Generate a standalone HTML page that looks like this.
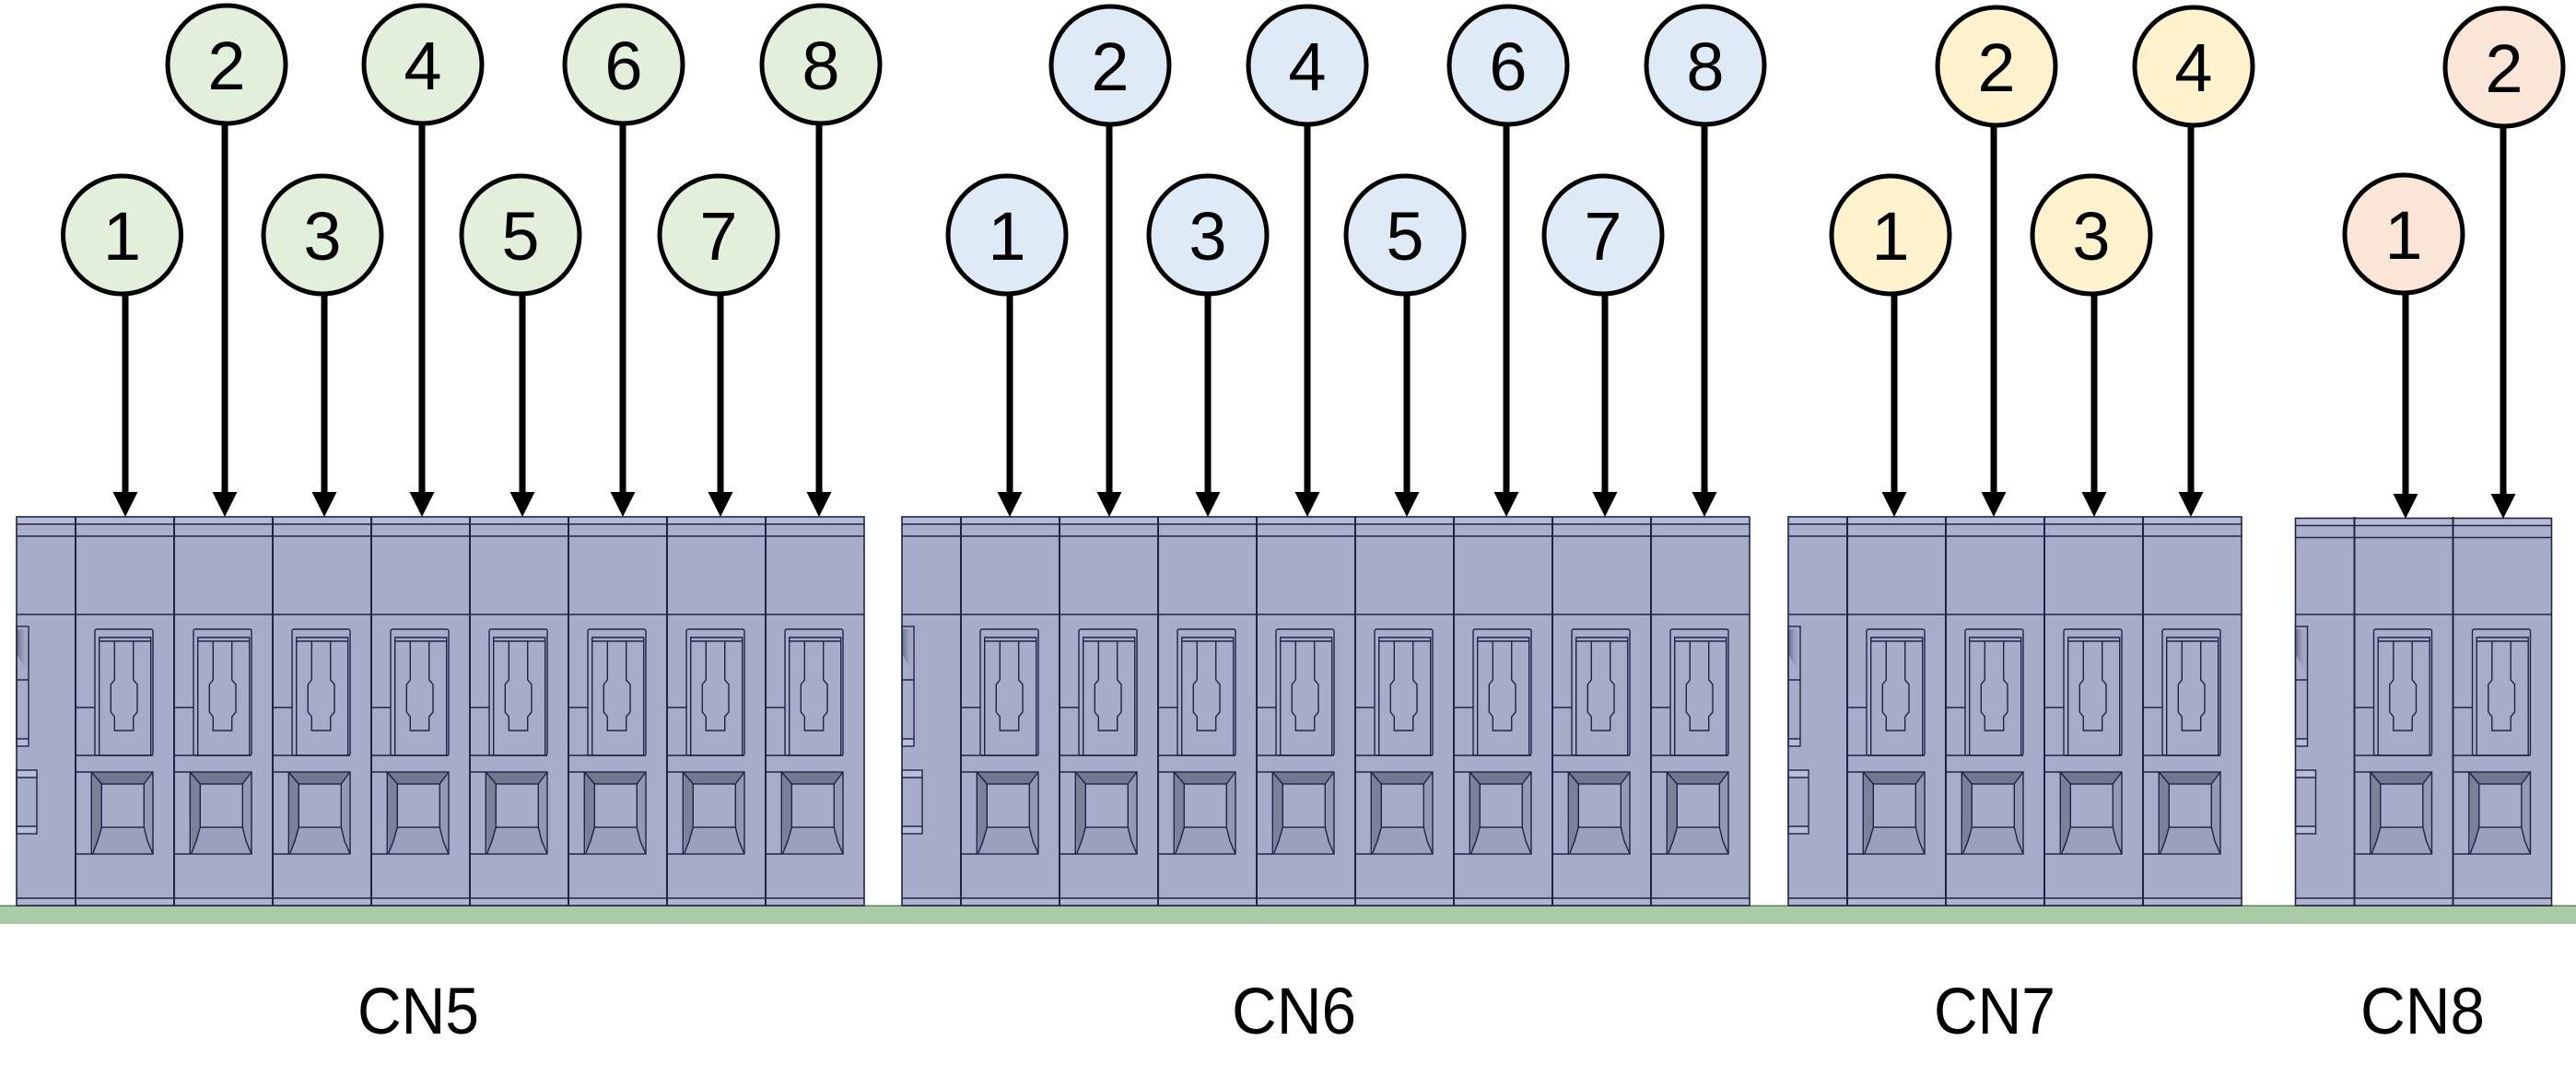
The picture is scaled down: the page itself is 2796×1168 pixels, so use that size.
<!DOCTYPE html>
<html>
<head>
<meta charset="utf-8">
<style>
html,body{margin:0;padding:0;background:#fff;}
svg{display:block;}
.num{font-family:"Liberation Sans",sans-serif;font-size:74px;fill:#000;text-anchor:middle;}
.lbl{font-family:"Liberation Sans",sans-serif;font-size:71px;fill:#000;}
</style>
</head>
<body>
<svg width="2796" height="1168" viewBox="0 0 2796 1168" xmlns="http://www.w3.org/2000/svg">
<defs>
  <linearGradient id="sh" x1="0" y1="0" x2="1" y2="0">
    <stop offset="0" stop-color="#3c4262"/>
    <stop offset="1" stop-color="#a7adc9" stop-opacity="0"/>
  </linearGradient>
  <g id="mod">
    <polygon points="17.3,277 84,277 74.3,290 28.3,290" fill="#737891"/>
    <polygon points="17.3,277 28.3,290 28.3,337 24,352 18.5,366" fill="#7b8198"/>
    <polygon points="84,277 74.3,290 74.3,337 78,352 84,366" fill="#9399b3"/>
    <polygon points="28.3,337 74.3,337 78,352 84,366 18.5,366 24,352" fill="#9ba0bd"/>
    <g fill="none" stroke="#1e2448" stroke-width="1.4">
      <path d="M0,207H21 M0,259H84 M0,277H17.3 M0,366H17.3"/>
      <rect x="21" y="122" width="63" height="137" rx="2"/>
      <path d="M25.7,259V131H81.7V259 M25.7,135H81.7"/>
      <path d="M42.3,135V177L38.3,182V212L42.3,217V232H62.7V217L67,212V182L62.7,177V135"/>
      <rect x="17.3" y="277" width="66.7" height="89"/>
      <rect x="28.3" y="290" width="46" height="47"/>
      <path d="M17.3,277L28.3,290 M84,277L74.3,290 M28.3,337L24,352L18.5,366 M74.3,337L78,352L84,366"/>
    </g>
    <path d="M0,0V422" stroke="#1e2448" stroke-width="2" fill="none"/>
  </g>
  <g id="end">
    <polygon points="1,122 13,122 13,168 6,160 1,150" fill="url(#sh)" opacity="0.55"/>
    <rect x="0" y="275" width="22" height="8" fill="#b8bed7"/>
    <rect x="0" y="336" width="22" height="8" fill="#b8bed7"/>
    <rect x="0" y="241" width="13" height="8" fill="#b8bed7"/>
    <g fill="none" stroke="#1e2448" stroke-width="1.4">
      <rect x="0" y="119" width="13" height="130"/>
      <path d="M0,177H13 M0,241H13"/>
      <rect x="0" y="275" width="22" height="69"/>
      <path d="M0,283H22 M0,336H22"/>
    </g>
  </g>
</defs>

<rect x="0" y="983" width="2796" height="20" fill="#a9cba5"/>
<rect x="0" y="982.5" width="2796" height="1.5" fill="#5c7d5a"/>

<g transform="translate(18,561)">
  <rect x="0" y="0" width="920" height="422" fill="#a7adc9"/>
  <rect x="0" y="0" width="920" height="8" fill="#b4bad4"/>
  <rect x="0" y="8" width="920" height="13" fill="#abb1cc"/>
  <rect x="0" y="414" width="920" height="8" fill="#b0b6d0"/>
  <use href="#end"/>
  <use href="#mod" x="64"/><use href="#mod" x="171"/><use href="#mod" x="278"/><use href="#mod" x="385"/>
  <use href="#mod" x="492"/><use href="#mod" x="599"/><use href="#mod" x="706"/><use href="#mod" x="813"/>
  <path d="M0,8H920 M0,21H920 M0,106H920 M0,414H920" stroke="#1e2448" stroke-width="1.4" fill="none"/>
  <rect x="0" y="0" width="920" height="422" fill="none" stroke="#1e2448" stroke-width="1.6"/>
</g>

<g transform="translate(979,561)">
  <rect x="0" y="0" width="920" height="422" fill="#a7adc9"/>
  <rect x="0" y="0" width="920" height="8" fill="#b4bad4"/>
  <rect x="0" y="8" width="920" height="13" fill="#abb1cc"/>
  <rect x="0" y="414" width="920" height="8" fill="#b0b6d0"/>
  <use href="#end"/>
  <use href="#mod" x="64"/><use href="#mod" x="171"/><use href="#mod" x="278"/><use href="#mod" x="385"/>
  <use href="#mod" x="492"/><use href="#mod" x="599"/><use href="#mod" x="706"/><use href="#mod" x="813"/>
  <path d="M0,8H920 M0,21H920 M0,106H920 M0,414H920" stroke="#1e2448" stroke-width="1.4" fill="none"/>
  <rect x="0" y="0" width="920" height="422" fill="none" stroke="#1e2448" stroke-width="1.6"/>
</g>

<g transform="translate(1941,561)">
  <rect x="0" y="0" width="492" height="422" fill="#a7adc9"/>
  <rect x="0" y="0" width="492" height="8" fill="#b4bad4"/>
  <rect x="0" y="8" width="492" height="13" fill="#abb1cc"/>
  <rect x="0" y="414" width="492" height="8" fill="#b0b6d0"/>
  <use href="#end"/>
  <use href="#mod" x="64"/><use href="#mod" x="171"/><use href="#mod" x="278"/><use href="#mod" x="385"/>
  <path d="M0,8H492 M0,21H492 M0,106H492 M0,414H492" stroke="#1e2448" stroke-width="1.4" fill="none"/>
  <rect x="0" y="0" width="492" height="422" fill="none" stroke="#1e2448" stroke-width="1.6"/>
</g>

<g transform="translate(2491.5,562.5)">
  <rect x="0" y="0" width="278" height="420.5" fill="#a7adc9"/>
  <rect x="0" y="0" width="278" height="8" fill="#b4bad4"/>
  <rect x="0" y="8" width="278" height="13" fill="#abb1cc"/>
  <rect x="0" y="412.5" width="278" height="8" fill="#b0b6d0"/>
  <g transform="translate(0,-1.5)">
    <use href="#end"/>
    <use href="#mod" x="64"/><use href="#mod" x="171"/>
  </g>
  <path d="M0,8H278 M0,21H278 M0,104.5H278 M0,412.5H278" stroke="#1e2448" stroke-width="1.4" fill="none"/>
  <rect x="0" y="0" width="278" height="420.5" fill="none" stroke="#1e2448" stroke-width="1.6"/>
</g>

<g stroke="#000" stroke-width="7" fill="none">
  <path d="M136,318V536"/><path d="M244,132V536"/><path d="M352,318V536"/><path d="M458,132V536"/>
  <path d="M567,318V536"/><path d="M676,132V536"/><path d="M782,318V536"/><path d="M889,132V536"/>
  <path d="M1096,318V536"/><path d="M1204,133V536"/><path d="M1311,318V536"/><path d="M1419,133V536"/>
  <path d="M1527,318V536"/><path d="M1635,133V536"/><path d="M1742,318V536"/><path d="M1850,133V536"/>
  <path d="M2056,318V536"/><path d="M2164,134V536"/><path d="M2273,318V536"/><path d="M2378,134V536"/>
  <path d="M2611,317V538"/><path d="M2717,135V538"/>
</g>
<g fill="#000">
  <polygon points="122.5,534 149.5,534 136,561"/><polygon points="230.5,534 257.5,534 244,561"/>
  <polygon points="338.5,534 365.5,534 352,561"/><polygon points="444.5,534 471.5,534 458,561"/>
  <polygon points="553.5,534 580.5,534 567,561"/><polygon points="662.5,534 689.5,534 676,561"/>
  <polygon points="768.5,534 795.5,534 782,561"/><polygon points="875.5,534 902.5,534 889,561"/>

  <polygon points="1082.5,534 1109.5,534 1096,561"/><polygon points="1190.5,534 1217.5,534 1204,561"/>
  <polygon points="1297.5,534 1324.5,534 1311,561"/><polygon points="1405.5,534 1432.5,534 1419,561"/>
  <polygon points="1513.5,534 1540.5,534 1527,561"/><polygon points="1621.5,534 1648.5,534 1635,561"/>
  <polygon points="1728.5,534 1755.5,534 1742,561"/><polygon points="1836.5,534 1863.5,534 1850,561"/>

  <polygon points="2042.5,534 2069.5,534 2056,561"/><polygon points="2150.5,534 2177.5,534 2164,561"/>
  <polygon points="2259.5,534 2286.5,534 2273,561"/><polygon points="2364.5,534 2391.5,534 2378,561"/>

  <polygon points="2597.5,536 2624.5,536 2611,563"/><polygon points="2703.5,536 2730.5,536 2717,563"/>
</g>

<g stroke="#000" stroke-width="5">
  <g fill="#e2efda">
    <circle cx="132.5" cy="255" r="64"/><circle cx="246" cy="70" r="64"/>
    <circle cx="350" cy="255" r="64"/><circle cx="459" cy="70" r="64"/>
    <circle cx="565" cy="255" r="64"/><circle cx="677" cy="70" r="64"/>
    <circle cx="780" cy="255" r="64"/><circle cx="891" cy="70" r="64"/>
  </g>
  <g fill="#deebf7">
    <circle cx="1093" cy="255" r="64"/><circle cx="1205" cy="71" r="64"/>
    <circle cx="1311" cy="255" r="64"/><circle cx="1419" cy="71" r="64"/>
    <circle cx="1525" cy="255" r="64"/><circle cx="1637" cy="71" r="64"/>
    <circle cx="1740" cy="255" r="64"/><circle cx="1851" cy="71" r="64"/>
  </g>
  <g fill="#fff2cc">
    <circle cx="2052" cy="255" r="64"/><circle cx="2167" cy="72" r="64"/>
    <circle cx="2270" cy="255" r="64"/><circle cx="2381" cy="72" r="64"/>
  </g>
  <g fill="#fbe5d6">
    <circle cx="2609" cy="254" r="64"/><circle cx="2718" cy="73" r="64"/>
  </g>
</g>

<g class="num">
  <text class="num" x="132.5" y="282">1</text><text class="num" x="246" y="97">2</text>
  <text class="num" x="350" y="282">3</text><text class="num" x="459" y="97">4</text>
  <text class="num" x="565" y="282">5</text><text class="num" x="677" y="97">6</text>
  <text class="num" x="780" y="282">7</text><text class="num" x="891" y="97">8</text>

  <text class="num" x="1093" y="282">1</text><text class="num" x="1205" y="98">2</text>
  <text class="num" x="1311" y="282">3</text><text class="num" x="1419" y="98">4</text>
  <text class="num" x="1525" y="282">5</text><text class="num" x="1637" y="98">6</text>
  <text class="num" x="1740" y="282">7</text><text class="num" x="1851" y="98">8</text>

  <text class="num" x="2052" y="282">1</text><text class="num" x="2167" y="99">2</text>
  <text class="num" x="2270" y="282">3</text><text class="num" x="2381" y="99">4</text>

  <text class="num" x="2609" y="281">1</text><text class="num" x="2718" y="100">2</text>
</g>

<text class="lbl" x="388" y="1122" textLength="132" lengthAdjust="spacingAndGlyphs">CN5</text>
<text class="lbl" x="1337" y="1122" textLength="135" lengthAdjust="spacingAndGlyphs">CN6</text>
<text class="lbl" x="2099" y="1122" textLength="132" lengthAdjust="spacingAndGlyphs">CN7</text>
<text class="lbl" x="2562" y="1122" textLength="135" lengthAdjust="spacingAndGlyphs">CN8</text>
</svg>
</body>
</html>
